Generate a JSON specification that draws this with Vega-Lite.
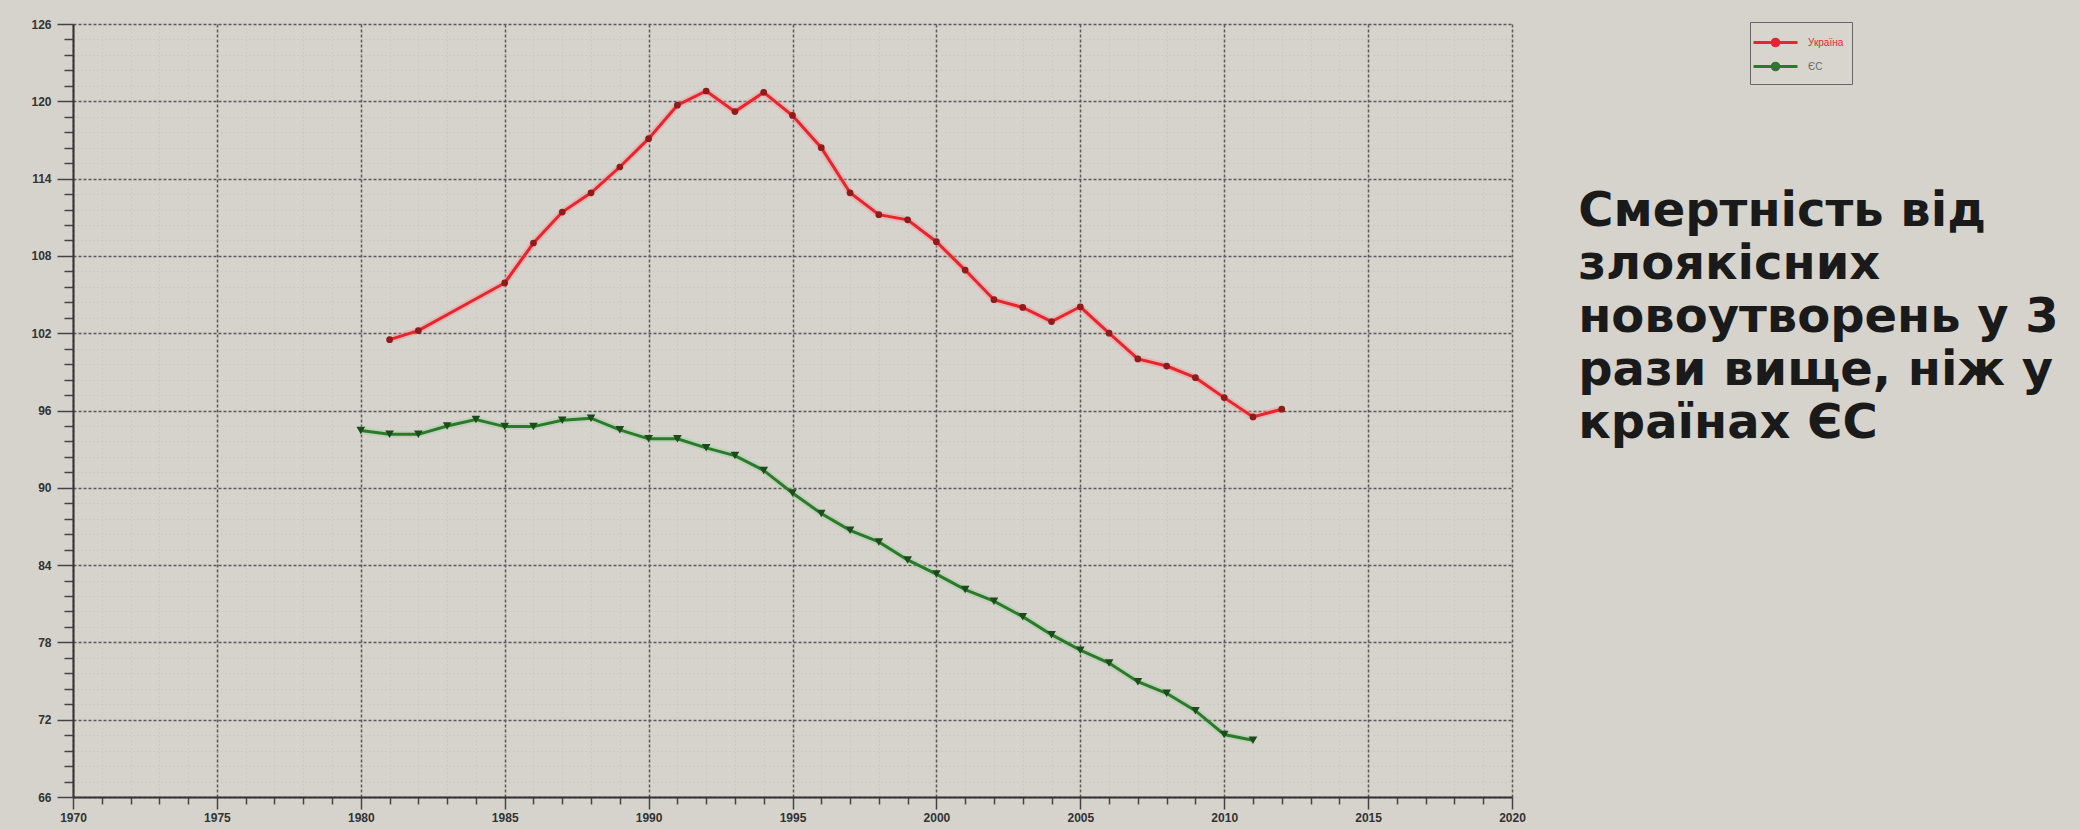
{
  "$schema": "https://vega.github.io/schema/vega-lite/v6.json",
  "width": 1439,
  "height": 773,
  "autosize": {"type": "none"},
  "padding": {"left": 73, "top": 24, "right": 568, "bottom": 32},
  "background": "#d6d3cd",
  "config": {
    "view": {"stroke": null},
    "font": "Liberation Sans"
  },
  "datasets": {
    "series": [
      {"year": 1981, "value": 101.5, "region": "Україна"},
      {"year": 1982, "value": 102.2, "region": "Україна"},
      {"year": 1985, "value": 105.9, "region": "Україна"},
      {"year": 1986, "value": 109.0, "region": "Україна"},
      {"year": 1987, "value": 111.4, "region": "Україна"},
      {"year": 1988, "value": 112.9, "region": "Україна"},
      {"year": 1989, "value": 114.9, "region": "Україна"},
      {"year": 1990, "value": 117.1, "region": "Україна"},
      {"year": 1991, "value": 119.7, "region": "Україна"},
      {"year": 1992, "value": 120.8, "region": "Україна"},
      {"year": 1993, "value": 119.2, "region": "Україна"},
      {"year": 1994, "value": 120.7, "region": "Україна"},
      {"year": 1995, "value": 118.9, "region": "Україна"},
      {"year": 1996, "value": 116.4, "region": "Україна"},
      {"year": 1997, "value": 112.9, "region": "Україна"},
      {"year": 1998, "value": 111.2, "region": "Україна"},
      {"year": 1999, "value": 110.8, "region": "Україна"},
      {"year": 2000, "value": 109.1, "region": "Україна"},
      {"year": 2001, "value": 106.9, "region": "Україна"},
      {"year": 2002, "value": 104.6, "region": "Україна"},
      {"year": 2003, "value": 104.0, "region": "Україна"},
      {"year": 2004, "value": 102.9, "region": "Україна"},
      {"year": 2005, "value": 104.05, "region": "Україна"},
      {"year": 2006, "value": 102.0, "region": "Україна"},
      {"year": 2007, "value": 100.0, "region": "Україна"},
      {"year": 2008, "value": 99.45, "region": "Україна"},
      {"year": 2009, "value": 98.55, "region": "Україна"},
      {"year": 2010, "value": 97.0, "region": "Україна"},
      {"year": 2011, "value": 95.5, "region": "Україна"},
      {"year": 2012, "value": 96.1, "region": "Україна"},
      {"year": 1980, "value": 94.45, "region": "ЄС"},
      {"year": 1981, "value": 94.15, "region": "ЄС"},
      {"year": 1982, "value": 94.15, "region": "ЄС"},
      {"year": 1983, "value": 94.8, "region": "ЄС"},
      {"year": 1984, "value": 95.3, "region": "ЄС"},
      {"year": 1985, "value": 94.75, "region": "ЄС"},
      {"year": 1986, "value": 94.75, "region": "ЄС"},
      {"year": 1987, "value": 95.25, "region": "ЄС"},
      {"year": 1988, "value": 95.4, "region": "ЄС"},
      {"year": 1989, "value": 94.5, "region": "ЄС"},
      {"year": 1990, "value": 93.8, "region": "ЄС"},
      {"year": 1991, "value": 93.8, "region": "ЄС"},
      {"year": 1992, "value": 93.1, "region": "ЄС"},
      {"year": 1993, "value": 92.5, "region": "ЄС"},
      {"year": 1994, "value": 91.35, "region": "ЄС"},
      {"year": 1995, "value": 89.6, "region": "ЄС"},
      {"year": 1996, "value": 88.0, "region": "ЄС"},
      {"year": 1997, "value": 86.7, "region": "ЄС"},
      {"year": 1998, "value": 85.8, "region": "ЄС"},
      {"year": 1999, "value": 84.4, "region": "ЄС"},
      {"year": 2000, "value": 83.3, "region": "ЄС"},
      {"year": 2001, "value": 82.1, "region": "ЄС"},
      {"year": 2002, "value": 81.2, "region": "ЄС"},
      {"year": 2003, "value": 80.0, "region": "ЄС"},
      {"year": 2004, "value": 78.6, "region": "ЄС"},
      {"year": 2005, "value": 77.4, "region": "ЄС"},
      {"year": 2006, "value": 76.4, "region": "ЄС"},
      {"year": 2007, "value": 74.95, "region": "ЄС"},
      {"year": 2008, "value": 74.05, "region": "ЄС"},
      {"year": 2009, "value": 72.7, "region": "ЄС"},
      {"year": 2010, "value": 70.85, "region": "ЄС"},
      {"year": 2011, "value": 70.4, "region": "ЄС"}
    ],
    "note": [
      {"text": "Смертність від\nзлоякісних\nновоутворень у 3\nрази вище, ніж у\nкраїнах ЄС"}
    ]
  },
  "layer": [
    {
      "data": {"name": "series"},
      "transform": [{"filter": "datum.region === 'Україна'"}],
      "mark": {"type": "line", "color": "#f29090", "strokeWidth": 7, "opacity": 0.4},
      "encoding": {
        "x": {
          "field": "year", "type": "quantitative",
          "scale": {"domain": [1970, 2020], "nice": false, "zero": false},
          "axis": {
            "title": null,
            "tickCount": 500,
            "values": [1970,1971,1972,1973,1974,1975,1976,1977,1978,1979,1980,1981,1982,1983,1984,1985,1986,1987,1988,1989,1990,1991,1992,1993,1994,1995,1996,1997,1998,1999,2000,2001,2002,2003,2004,2005,2006,2007,2008,2009,2010,2011,2012,2013,2014,2015,2016,2017,2018,2019,2020],
            "format": "d",
            "labelExpr": "datum.value % 5 === 0 ? datum.label : ''",
            "labelOverlap": false,
            "labelFlush": false,
            "labelFont": "Liberation Sans",
            "labelFontSize": 12,
            "labelFontWeight": "bold",
            "labelColor": "#333333",
            "labelPadding": 3,
            "domainColor": "#333333",
            "domainWidth": 2,
            "tickColor": "#444444",
            "tickWidth": 1.5,
            "tickSize": {"condition": {"test": "datum.value % 5 === 0", "value": 12}, "value": 7},
            "gridColor": {"condition": {"test": "datum.value % 5 === 0", "value": "#5a5a5a"}, "value": "#c4c1bb"},
            "gridDash": {"condition": {"test": "datum.value % 5 === 0", "value": [3, 2]}, "value": [1, 3]},
            "gridWidth": {"condition": {"test": "datum.value % 5 === 0", "value": 1.5}, "value": 1}
          }
        },
        "y": {
          "field": "value", "type": "quantitative",
          "scale": {"domain": [66, 126], "nice": false, "zero": false},
          "axis": {
            "title": null,
            "tickCount": 500,
            "values": [66,67.2,68.4,69.6,70.8,72,73.2,74.4,75.6,76.8,78,79.2,80.4,81.6,82.8,84,85.2,86.4,87.6,88.8,90,91.2,92.4,93.6,94.8,96,97.2,98.4,99.6,100.8,102,103.2,104.4,105.6,106.8,108,109.2,110.4,111.6,112.8,114,115.2,116.4,117.6,118.8,120,121.2,122.4,123.6,124.8,126],
            "format": "d",
            "labelExpr": "abs(datum.value/6 - round(datum.value/6)) < 0.001 ? datum.label : ''",
            "labelOverlap": false,
            "labelFlush": false,
            "labelFont": "Liberation Sans",
            "labelFontSize": 12,
            "labelFontWeight": "bold",
            "labelColor": "#333333",
            "labelPadding": 6,
            "domainColor": "#333333",
            "domainWidth": 2,
            "tickColor": "#444444",
            "tickWidth": 1.5,
            "tickSize": {"condition": {"test": "abs(datum.value/6 - round(datum.value/6)) < 0.001", "value": 16}, "value": 9},
            "gridColor": {"condition": {"test": "abs(datum.value/6 - round(datum.value/6)) < 0.001", "value": "#5a5a5a"}, "value": "#c4c1bb"},
            "gridDash": {"condition": {"test": "abs(datum.value/6 - round(datum.value/6)) < 0.001", "value": [3, 2]}, "value": [1, 3]},
            "gridWidth": {"condition": {"test": "abs(datum.value/6 - round(datum.value/6)) < 0.001", "value": 1.5}, "value": 1}
          }
        }
      }
    },
    {
      "data": {"name": "series"},
      "transform": [{"filter": "datum.region === 'ЄС'"}],
      "mark": {"type": "line", "color": "#9ed09e", "strokeWidth": 7, "opacity": 0.4},
      "encoding": {
        "x": {"field": "year", "type": "quantitative"},
        "y": {"field": "value", "type": "quantitative"}
      }
    },
    {
      "data": {"name": "series"},
      "mark": {"type": "line", "strokeWidth": 3},
      "encoding": {
        "x": {"field": "year", "type": "quantitative"},
        "y": {"field": "value", "type": "quantitative"},
        "color": {
          "field": "region", "type": "nominal",
          "scale": {"domain": ["Україна", "ЄС"], "range": ["#e8242c", "#2a7a2a"]},
          "legend": {
            "title": null,
            "orient": "none",
            "legendX": 1677,
            "legendY": -2,
            "symbolType": "M-2,0H2M-0.3,0A0.3,0.3,0,1,1,0.3,0A0.3,0.3,0,1,1,-0.3,0Z",
            "symbolSize": 484,
            "symbolOffset": 5,
            "symbolStrokeWidth": 3,
            "labelFontSize": 10,
            "labelFont": "Liberation Sans",
            "labelOffset": 20,
            "rowPadding": 2,
            "padding": 8,
            "strokeColor": "#666666",
            "fillColor": "#d8d5cf",
            "labelLimit": 300,
            "encode": {
              "symbols": {"update": {"fill": {"scale": "color", "field": "value"}}},
              "labels": {"update": {"fill": {"signal": "datum.value === 'Україна' ? '#e8242c' : '#5f6e5f'"}}}
            }
          }
        }
      }
    },
    {
      "data": {"name": "series"},
      "transform": [{"filter": "datum.region === 'Україна'"}],
      "mark": {"type": "point", "shape": "circle", "filled": true, "color": "#8e1c1c", "size": 45, "opacity": 1},
      "encoding": {
        "x": {"field": "year", "type": "quantitative"},
        "y": {"field": "value", "type": "quantitative"}
      }
    },
    {
      "data": {"name": "series"},
      "transform": [{"filter": "datum.region === 'ЄС'"}],
      "mark": {"type": "point", "shape": "triangle-down", "filled": true, "color": "#1c4a1c", "size": 75, "opacity": 1},
      "encoding": {
        "x": {"field": "year", "type": "quantitative"},
        "y": {"field": "value", "type": "quantitative"}
      }
    },
    {
      "data": {"name": "note"},
      "mark": {
        "type": "text",
        "align": "left",
        "baseline": "alphabetic",
        "font": "DejaVu Sans",
        "fontWeight": "bold",
        "fontSize": 48,
        "lineBreak": "\n",
        "lineHeight": 53,
        "color": "#1a1a1a"
      },
      "encoding": {
        "x": {"datum": 2022.3, "type": "quantitative"},
        "y": {"datum": 110.3, "type": "quantitative"},
        "text": {"field": "text"}
      }
    }
  ]
}
